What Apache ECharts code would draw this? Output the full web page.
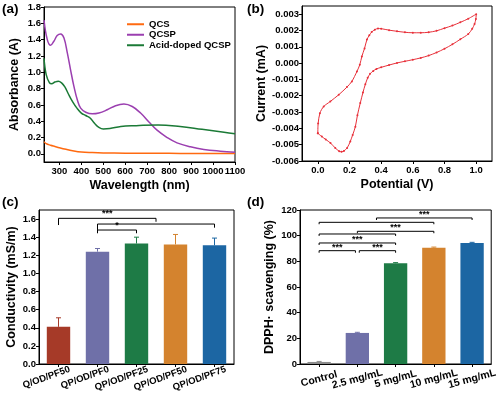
<!DOCTYPE html>
<html><head><meta charset="utf-8">
<script src="https://cdn.jsdelivr.net/npm/echarts@6/dist/echarts.min.js"></script>
<style>html,body{margin:0;padding:0;background:#fff}#c{width:500px;height:398px}</style>
</head><body><div id="c"></div><script>
// ---------- (a) UV-vis ----------
const wlQCS  = [230,240,260,280,300,330,360,400,450,500,600,700,800,900,1000,1100];
const absQCS = [0.15,0.125,0.105,0.09,0.075,0.055,0.038,0.022,0.015,0.011,0.008,0.007,0.006,0.005,0.004,0.003];
const wlQCSP  = [230,245,260,275,290,306,321,336,351,366,382,397,420,450,480,518,556,594,632,670,708,745,791,836,897,958,1033,1100];
const absQCSP = [1.64,1.40,1.33,1.38,1.45,1.47,1.42,1.24,1.03,0.83,0.66,0.56,0.51,0.49,0.50,0.54,0.59,0.61,0.58,0.50,0.39,0.29,0.20,0.135,0.086,0.054,0.033,0.02];
const wlAcid  = [230,240,255,265,280,295,310,325,340,360,380,400,420,440,460,480,500,530,580,650,750,850,950,1050,1100];
const absAcid = [1.17,0.97,0.87,0.86,0.88,0.89,0.87,0.82,0.74,0.64,0.56,0.50,0.47,0.44,0.375,0.325,0.305,0.31,0.335,0.345,0.355,0.335,0.30,0.265,0.245];
const seriesNamesA = ['QCS','QCSP','Acid-doped QCSP'];
const xTicksA = [300,400,500,600,700,800,900,1000,1100];
const yTicksA = [0,0.2,0.4,0.6,0.8,1.0,1.2,1.4,1.6,1.8];

// ---------- (b) CV ----------
const potential = [0.000,0.002,0.013,0.037,0.079,0.132,0.184,0.215,0.247,0.265,0.278,0.295,0.31,0.325,0.34,0.36,0.38,0.40,0.45,0.50,0.55,0.60,0.65,0.70,0.75,0.80,0.85,0.90,0.95,1.00,
  0.998,0.99,0.975,0.95,0.90,0.85,0.80,0.75,0.70,0.65,0.60,0.55,0.50,0.45,0.40,0.37,0.35,0.33,0.315,0.30,0.285,0.268,0.25,0.237,0.22,0.205,0.185,0.165,0.15,0.135,0.11,0.08,0.05,0.025,0.000];
const current = [-0.0043,-0.0037,-0.00307,-0.00266,-0.00235,-0.00194,-0.00147,-0.00112,-0.00051,-0.0001,0.00041,0.0009,0.00144,0.0017,0.0019,0.00205,0.00212,0.00211,0.00202,0.00195,0.00189,0.00186,0.00186,0.00189,0.00198,0.00214,0.0023,0.0025,0.00272,0.0030,
  0.0027,0.0024,0.0021,0.00178,0.00146,0.00115,0.00088,0.00065,0.00046,0.00032,0.00021,0.00011,0.00001,-0.00012,-0.00026,-0.00036,-0.00048,-0.00066,-0.0009,-0.0013,-0.0018,-0.00245,-0.0032,-0.0039,-0.0044,-0.0048,-0.0052,-0.00538,-0.00543,-0.0054,-0.0052,-0.0049,-0.00468,-0.0045,-0.0043];
const xTicksB = [0,0.2,0.4,0.6,0.8,1.0];
const yTicksB = [-0.006,-0.005,-0.004,-0.003,-0.002,-0.001,0,0.001,0.002,0.003];

// ---------- (c) Conductivity ----------
const catC = ['Q/OD/PF50','QP/OD/PF0','QP/OD/PF25','QP/OD/PF50','QP/OD/PF75'];
const valC = [0.41,1.24,1.33,1.32,1.31];
const errC = [0.10,0.035,0.07,0.11,0.08];
const yTicksC = [0,0.2,0.4,0.6,0.8,1.0,1.2,1.4,1.6];
const sigC = [
  {x1:0, x2:2.5, y:1.608, l1:1.534, l2:1.57, text:'***'},
  {x1:1, x2:4, y:1.545, l1:1.48, l2:1.505, text:''},
  {x1:1, x2:2, y:1.479, l1:1.443, l2:1.443, text:'*'}
];

// ---------- (d) DPPH ----------
const catD = ['Control','2.5 mg/mL','5 mg/mL','10 mg/mL','15 mg/mL'];
const valD = [1.6,24.2,78.5,90.6,94.3];
const errD = [0.4,0.5,0.5,0.5,0.5];
const sigD = [
  {x1:1.5, x2:4, y:113.8, l1:112.2, l2:112.2, text:'***'},
  {x1:0, x2:3, y:110.4, l1:108.9, l2:108.9, text:''},
  {x1:1, x2:3, y:103.4, l1:101.9, l2:101.9, text:'***'},
  {x1:0, x2:2, y:101.3, l1:99.8, l2:99.8, text:''},
  {x1:0, x2:2, y:94.3, l1:92.75, l2:92.75, text:'***'},
  {x1:0, x2:0.95, y:88.3, l1:86.7, l2:86.7, text:'***'},
  {x1:1.05, x2:2, y:88.3, l1:86.7, l2:86.7, text:'***'}
];

// ---------- styling ----------
const FF = '"Liberation Sans", Arial, sans-serif';
const colA = ['#FF6A10','#9B3FB0','#1B7A36'];
const colC = ['#A63A28','#6F70A8','#1E7B46','#D4832E','#1C66A3'];
const colD = ['#8C8C8C','#6F70A8','#1E7B46','#D4832E','#1C66A3'];

const lineBlack = {show:true, onZero:false, lineStyle:{color:'#000', width:1}};
const TICKF = 9.5;
function valAxis(o){
  return Object.assign({
    type:'value', axisLine:lineBlack, splitLine:{show:false},
    axisTick:{show:true, length:3, lineStyle:{color:'#000'}},
    axisLabel:{color:'#000', fontWeight:'bold', fontSize:TICKF, fontFamily:FF, margin:3},
    nameLocation:'middle',
    nameTextStyle:{color:'#000', fontWeight:'bold', fontSize:12.5, fontFamily:FF}
  }, o);
}
function lab(extra){ return Object.assign({color:'#000', fontWeight:'bold', fontSize:TICKF, fontFamily:FF, margin:3}, extra); }
function tick(vals){ return {show:true, length:3, customValues:vals, lineStyle:{color:'#000'}}; }
function catAxis(o){
  return Object.assign({
    type:'category', axisLine:lineBlack, splitLine:{show:false},
    axisTick:{show:true, length:3, alignWithLabel:true, lineStyle:{color:'#000'}}
  }, o);
}

function zip(a,b){ return a.map((v,i)=>[v,b[i]]); }

function errRender(colors){
  return function(params, api){
    const i = api.value(0);
    const p0 = api.coord([i, api.value(1)]);
    const p1 = api.coord([i, api.value(2)]);
    const c = colors[params.dataIndex];
    return {type:'group', children:[
      {type:'line', shape:{x1:p0[0], y1:p0[1], x2:p1[0], y2:p1[1]}, style:{stroke:c, lineWidth:1}},
      {type:'line', shape:{x1:p1[0]-2.5, y1:p1[1], x2:p1[0]+2.5, y2:p1[1]}, style:{stroke:c, lineWidth:1}}
    ]};
  };
}
function sigRender(list, lift){
  return function(params, api){
    const s = list[params.dataIndex];
    const xAt = f => {
      const a = Math.floor(f), b = Math.ceil(f);
      const xa = api.coord([a, 0])[0], xb = api.coord([b, 0])[0];
      return xa + (xb - xa) * (f - a);
    };
    const yAt = v => api.coord([0, v])[1];
    const X1 = xAt(s.x1), X2 = xAt(s.x2), Y = yAt(s.y);
    const ch = [
      {type:'line', shape:{x1:X1, y1:Y, x2:X2, y2:Y}, style:{stroke:'#000', lineWidth:1}},
      {type:'line', shape:{x1:X1, y1:Y, x2:X1, y2:yAt(s.l1)}, style:{stroke:'#000', lineWidth:1}},
      {type:'line', shape:{x1:X2, y1:Y, x2:X2, y2:yAt(s.l2)}, style:{stroke:'#000', lineWidth:1}}
    ];
    if (s.text) ch.push({type:'text', x:(X1+X2)/2, y:Y-lift, style:{text:s.text, fill:'#000', fontSize:9, fontWeight:'bold', fontFamily:FF, align:'center', verticalAlign:'middle'}});
    return {type:'group', children:ch};
  };
}

const chart = echarts.init(document.getElementById('c'), null, {renderer:'canvas'});
const title = (t, l, tp) => ({text:t, left:l, top:tp, padding:0, textStyle:{fontSize:13.5, fontWeight:'bold', color:'#000', fontFamily:FF}});

chart.setOption({
  animation:false,
  backgroundColor:'#fff',
  title:[title('(a)',2,2), title('(b)',247,2), title('(c)',2,195), title('(d)',247,195)],
  grid:[
    {left:44, top:7, width:191, height:155, show:true, borderColor:'#000', borderWidth:1},
    {left:302, top:6, width:190, height:155, show:true, borderColor:'#000', borderWidth:1},
    {left:39, top:210, width:195, height:154, show:true, borderColor:'#000', borderWidth:1},
    {left:300, top:210, width:192, height:154, show:true, borderColor:'#000', borderWidth:1}
  ],
  legend:{
    data:seriesNamesA, orient:'vertical', left:122, top:14, itemWidth:17, itemHeight:2, itemGap:0, icon:'rect',
    textStyle:{fontSize:9.5, fontWeight:'bold', color:'#000', fontFamily:FF, lineHeight:10.5}
  },
  xAxis:[
    valAxis({gridIndex:0, min:230, max:1100, name:'Wavelength (nm)', nameGap:17,
      axisTick:tick(xTicksA), axisLabel:lab({margin:4, customValues:xTicksA, formatter:v=>String(v)})}),
    valAxis({gridIndex:1, min:-0.1, max:1.1, name:'Potential (V)', nameGap:17,
      axisTick:tick(xTicksB), axisLabel:lab({margin:4, customValues:xTicksB, formatter:v=>v.toFixed(1)})}),
    catAxis({gridIndex:2, data:catC,
      axisLabel:lab({fontSize:9.5, rotate:20, margin:9, interval:0, padding:[0,-12,0,0]})}),
    catAxis({gridIndex:3, data:catD,
      axisLabel:lab({fontSize:10.5, rotate:15, margin:15, interval:0, align:'center', verticalAlign:'middle'})})
  ],
  yAxis:[
    valAxis({gridIndex:0, min:-0.1, max:1.8, name:'Absorbance (A)', nameGap:23,
      axisTick:tick(yTicksA), axisLabel:lab({customValues:yTicksA, formatter:v=>v.toFixed(1)})}),
    valAxis({gridIndex:1, min:-0.006, max:0.0035, name:'Current (mA)', nameGap:34,
      axisTick:tick(yTicksB), axisLabel:lab({customValues:yTicksB, formatter:v=>v.toFixed(3)})}),
    valAxis({gridIndex:2, min:0, max:1.7, name:'Conductivity (mS/m)', nameGap:21,
      axisTick:tick(yTicksC), axisLabel:lab({customValues:yTicksC, formatter:v=>v.toFixed(1)})}),
    valAxis({gridIndex:3, min:0, max:120, interval:20, name:'DPPH\u00b7 scavenging (%)', nameGap:24})
  ],
  series:[
    {name:'QCS', type:'line', xAxisIndex:0, yAxisIndex:0, data:zip(wlQCS,absQCS), smooth:0.4, symbol:'none', lineStyle:{width:1.5, color:colA[0]}, itemStyle:{color:colA[0]}},
    {name:'QCSP', type:'line', xAxisIndex:0, yAxisIndex:0, data:zip(wlQCSP,absQCSP), smooth:0.4, symbol:'none', lineStyle:{width:1.5, color:colA[1]}, itemStyle:{color:colA[1]}},
    {name:'Acid-doped QCSP', type:'line', xAxisIndex:0, yAxisIndex:0, data:zip(wlAcid,absAcid), smooth:0.4, symbol:'none', lineStyle:{width:1.5, color:colA[2]}, itemStyle:{color:colA[2]}},
    {type:'line', xAxisIndex:1, yAxisIndex:1, data:zip(potential,current), smooth:0.3, symbol:'circle', symbolSize:2, showSymbol:true,
      lineStyle:{width:1, color:'#E8303A'}, itemStyle:{color:'#E8303A'}},
    {type:'bar', xAxisIndex:2, yAxisIndex:2, barWidth:'60%', data:valC.map((v,i)=>({value:v, itemStyle:{color:colC[i]}}))},
    {type:'custom', xAxisIndex:2, yAxisIndex:2, data:valC.map((v,i)=>[i, v, v+errC[i]]), renderItem:errRender(colC), z:3},
    {type:'custom', xAxisIndex:2, yAxisIndex:2, data:sigC.map((s,i)=>[i, s.y]), renderItem:sigRender(sigC, 5), z:4, clip:false},
    {type:'bar', xAxisIndex:3, yAxisIndex:3, barWidth:'61%', data:valD.map((v,i)=>({value:v, itemStyle:{color:colD[i]}}))},
    {type:'custom', xAxisIndex:3, yAxisIndex:3, data:valD.map((v,i)=>[i, v, v+errD[i]]), renderItem:errRender(colD), z:3},
    {type:'custom', xAxisIndex:3, yAxisIndex:3, data:sigD.map((s,i)=>[i, s.y]), renderItem:sigRender(sigD, 3.5), z:4, clip:false}
  ]
});
</script></body></html>
